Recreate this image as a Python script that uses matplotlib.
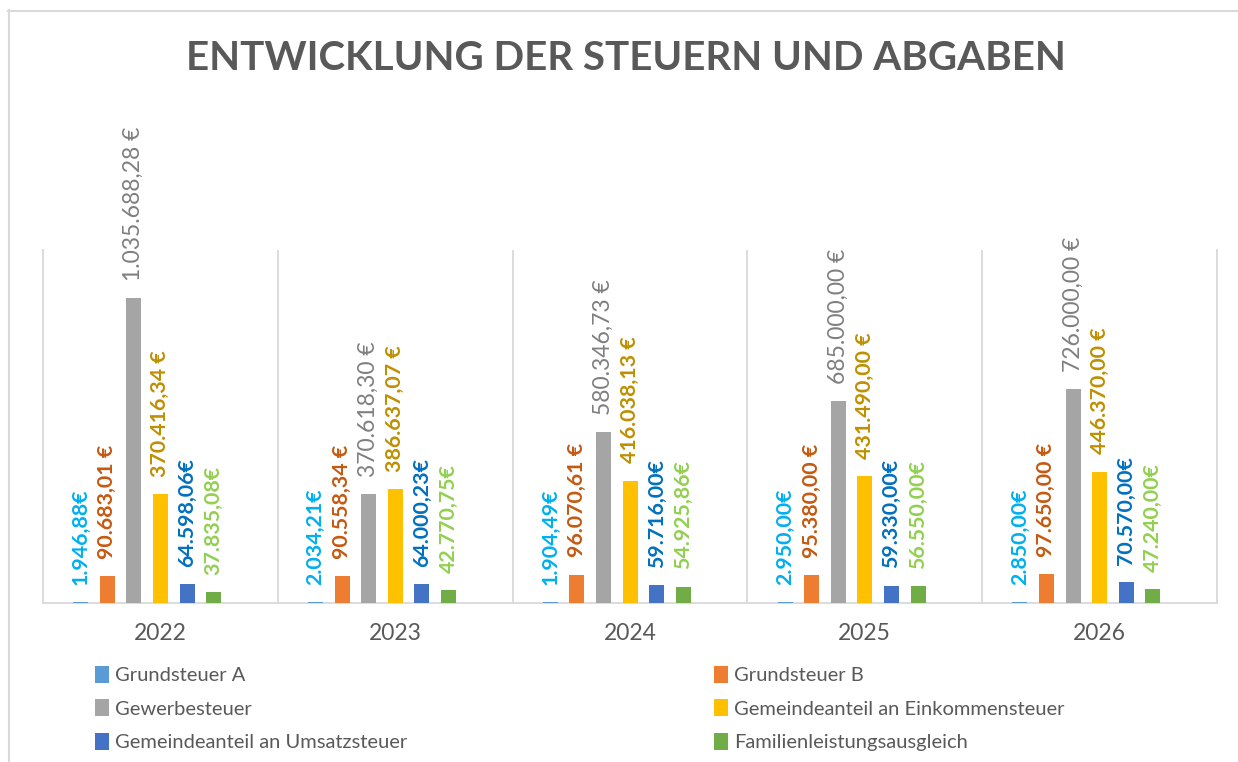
import matplotlib
matplotlib.use("Agg")
import matplotlib.pyplot as plt
from matplotlib.lines import Line2D
import numpy as np

plt.rcParams['font.family'] = ['Lato', 'DejaVu Sans']

# ---------------- data ----------------
years = ["2022", "2023", "2024", "2025", "2026"]
series_names = ["Grundsteuer A", "Grundsteuer B", "Gewerbesteuer",
                "Gemeindeanteil an Einkommensteuer",
                "Gemeindeanteil an Umsatzsteuer", "Familienleistungsausgleich"]
grundsteuer_a = [1946.88, 2034.21, 1904.49, 2950.00, 2850.00]
grundsteuer_b = [90683.01, 90558.34, 96070.61, 95380.00, 97650.00]
gewerbesteuer = [1035688.28, 370618.30, 580346.73, 685000.00, 726000.00]
einkommensteuer = [370416.34, 386637.07, 416038.13, 431490.00, 446370.00]
umsatzsteuer = [64598.06, 64000.23, 59716.00, 59330.00, 70570.00]
familienleistung = [37835.08, 42770.75, 54925.86, 56550.00, 47240.00]

series_values = [grundsteuer_a, grundsteuer_b, gewerbesteuer,
                 einkommensteuer, umsatzsteuer, familienleistung]
bar_colors = ["#5B9BD5", "#ED7D31", "#A5A5A5", "#FFC000", "#4472C4", "#70AD47"]
label_colors = ["#00B0F0", "#C55A11", "#7F7F7F", "#BF9000", "#0070C0", "#92D050"]
label_weights = ["bold", "bold", "normal", "bold", "bold", "bold"]
label_sizes = [15.4, 15.4, 16.5, 15.4, 15.4, 15.4]
euro_space = [False, True, True, True, False, False]


def fmt_de(v, space):
    s = f"{v:,.2f}"
    s = s.replace(",", "X").replace(".", ",").replace("X", ".")
    return s + (" €" if space else "€")


# ---------------- figure ----------------
W, H = 1238, 762
fig = plt.figure(figsize=(W / 100, H / 100), dpi=100)
fig.patch.set_facecolor("white")

left, right, bottom, top = 43, 1217, 603, 250
ax = fig.add_axes([left / W, 1 - bottom / H, (right - left) / W, (bottom - top) / H])

x = np.arange(len(years))
cat_px = (right - left) / len(years)
slot = 26.6 / cat_px
bw = 15.0 / cat_px

bars = []
for i, (vals, col) in enumerate(zip(series_values, bar_colors)):
    pos = x + (i - 3) * slot
    b = ax.bar(pos, vals, width=bw, color=col, label=series_names[i], zorder=3)
    bars.append(b)
    for xp, v in zip(pos, vals):
        ax.annotate(fmt_de(v, euro_space[i]), (xp, v), xytext=(0, 12.5),
                    textcoords="offset points", rotation=90, ha="center",
                    va="bottom", fontsize=label_sizes[i], color=label_colors[i],
                    fontweight=label_weights[i], annotation_clip=False)

ax.set_xlim(-0.5, len(years) - 0.5)
ax.set_ylim(0, 1.2e6)
ax.set_yticks([])
ax.set_xticks([])
for xv in np.arange(0.5, len(years) - 0.5, 1.0):
    ax.axvline(xv, color="#D9D9D9", lw=1.3, zorder=1)
for s in ["left", "right", "bottom"]:
    ax.spines[s].set_color("#D9D9D9")
    ax.spines[s].set_linewidth(1.3)
ax.spines["top"].set_visible(False)

# category labels
for xi, yr in zip(x, years):
    ax.annotate(yr, (xi, 0), xycoords=("data", "axes fraction"), xytext=(0, -30),
                textcoords="offset pixels", ha="center", va="center",
                fontsize=16.5, color="#595959", annotation_clip=False)

# title
fig.text(625.5 / W, 1 - 59 / H, "ENTWICKLUNG DER STEUERN UND ABGABEN",
         ha="center", va="center", fontsize=29, fontweight="bold", color="#595959")

# legend: two columns
col1 = [bars[0], bars[2], bars[4]]
col2 = [bars[1], bars[3], bars[5]]
common = dict(frameon=False, fontsize=14.5, handlelength=0.68, handleheight=0.9,
              handletextpad=0.3, labelspacing=0.75, labelcolor="#595959",
              borderpad=0, borderaxespad=0, loc="upper left")
fig.legend(handles=col1, labels=[series_names[0], series_names[2], series_names[4]],
           bbox_to_anchor=(95 / W, 1 - 666 / H), **common)
fig.legend(handles=col2, labels=[series_names[1], series_names[3], series_names[5]],
           bbox_to_anchor=(714 / W, 1 - 666 / H), **common)

# chart frame
fig.add_artist(Line2D([8 / W, 1], [1 - 10.5 / H, 1 - 10.5 / H], color="#D9D9D9", lw=1.5))
fig.add_artist(Line2D([8.5 / W, 8.5 / W], [0, 1 - 10 / H], color="#D9D9D9", lw=1.5))

fig.savefig("out.png", dpi=100, facecolor="white")
